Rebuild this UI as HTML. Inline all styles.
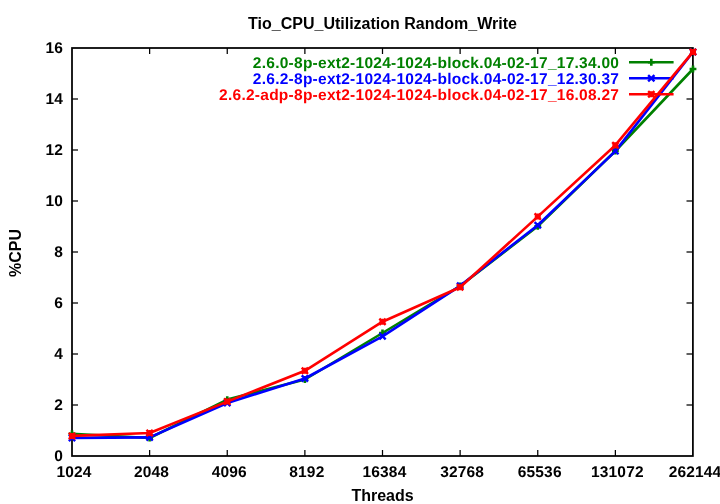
<!DOCTYPE html>
<html><head><meta charset="utf-8"><title>Tio_CPU_Utilization Random_Write</title>
<style>
html,body{margin:0;padding:0;background:#fff;}
body{width:720px;height:504px;overflow:hidden;}
svg{display:block;will-change:transform;}
text{font-family:"Liberation Sans",Arial,Helvetica,sans-serif;font-size:16px;font-weight:bold;fill:#000;}
.tk{text-rendering:geometricPrecision;font-size:15.5px;letter-spacing:0.15px;}

.lg{text-rendering:geometricPrecision;font-size:15.5px;letter-spacing:0.26px;}
</style></head><body>
<svg width="720" height="504" viewBox="0 0 720 504">
<rect x="0" y="0" width="720" height="504" fill="#fff"/>
<g stroke="#000" stroke-width="1.25" fill="none"><path d="M149.625 456V450"/><path d="M149.625 48V54"/><path d="M227.250 456V450"/><path d="M227.250 48V54"/><path d="M304.875 456V450"/><path d="M304.875 48V54"/><path d="M382.500 456V450"/><path d="M382.500 48V54"/><path d="M460.125 456V450"/><path d="M460.125 48V54"/><path d="M537.750 456V450"/><path d="M537.750 48V54"/><path d="M615.375 456V450"/><path d="M615.375 48V54"/><path d="M72 405H78"/><path d="M693 405H686.5"/><path d="M72 354H78"/><path d="M693 354H686.5"/><path d="M72 303H78"/><path d="M693 303H686.5"/><path d="M72 252H78"/><path d="M693 252H686.5"/><path d="M72 201H78"/><path d="M693 201H686.5"/><path d="M72 150H78"/><path d="M693 150H686.5"/><path d="M72 99H78"/><path d="M693 99H686.5"/></g>
<rect x="72" y="48" width="620.9" height="408" fill="none" stroke="#000" stroke-width="1.75"/>
<text class="tk" x="63" y="461" text-anchor="end">0</text>
<text class="tk" x="63" y="410" text-anchor="end">2</text>
<text class="tk" x="63" y="359" text-anchor="end">4</text>
<text class="tk" x="63" y="308" text-anchor="end">6</text>
<text class="tk" x="63" y="257" text-anchor="end">8</text>
<text class="tk" x="63" y="206" text-anchor="end">10</text>
<text class="tk" x="63" y="155" text-anchor="end">12</text>
<text class="tk" x="63" y="104" text-anchor="end">14</text>
<text class="tk" x="63" y="53" text-anchor="end">16</text>
<text class="tk" x="74.00" y="477" text-anchor="middle">1024</text>
<text class="tk" x="151.62" y="477" text-anchor="middle">2048</text>
<text class="tk" x="229.25" y="477" text-anchor="middle">4096</text>
<text class="tk" x="306.88" y="477" text-anchor="middle">8192</text>
<text class="tk" x="384.50" y="477" text-anchor="middle">16384</text>
<text class="tk" x="462.12" y="477" text-anchor="middle">32768</text>
<text class="tk" x="539.75" y="477" text-anchor="middle">65536</text>
<text class="tk" x="617.38" y="477" text-anchor="middle">131072</text>
<text class="tk" x="695.00" y="477" text-anchor="middle">262144</text>
<text x="382.5" y="500.5" text-anchor="middle">Threads</text>
<text transform="translate(21,253) rotate(-90)" text-anchor="middle">%CPU</text>
<text class="ti" x="382.5" y="28.7" text-anchor="middle">Tio_CPU_Utilization Random_Write</text>
<text class="lg" x="619.2" y="67.85" text-anchor="end" style="fill:#008000">2.6.0-8p-ext2-1024-1024-block.04-02-17_17.34.00</text>
<path d="M629 62.25H673.6" stroke="#008000" stroke-width="2.6" fill="none"/>
<path d="M647.90 62.25H654.70M651.30 58.85V65.65" stroke="#008000" stroke-width="2.6" fill="none"/>
<polyline points="72.00,433.70 149.62,438.00 227.25,399.60 304.88,379.50 382.50,333.00 460.12,286.00 537.75,226.30 615.38,151.00 693.00,69.00" stroke="#008000" stroke-width="2.6" fill="none" stroke-linejoin="round"/>
<path d="M68.60 433.70H75.40M72.00 430.30V437.10" stroke="#008000" stroke-width="2.6" fill="none"/>
<path d="M146.22 438.00H153.03M149.62 434.60V441.40" stroke="#008000" stroke-width="2.6" fill="none"/>
<path d="M223.85 399.60H230.65M227.25 396.20V403.00" stroke="#008000" stroke-width="2.6" fill="none"/>
<path d="M301.48 379.50H308.27M304.88 376.10V382.90" stroke="#008000" stroke-width="2.6" fill="none"/>
<path d="M379.10 333.00H385.90M382.50 329.60V336.40" stroke="#008000" stroke-width="2.6" fill="none"/>
<path d="M456.73 286.00H463.52M460.12 282.60V289.40" stroke="#008000" stroke-width="2.6" fill="none"/>
<path d="M534.35 226.30H541.15M537.75 222.90V229.70" stroke="#008000" stroke-width="2.6" fill="none"/>
<path d="M611.98 151.00H618.77M615.38 147.60V154.40" stroke="#008000" stroke-width="2.6" fill="none"/>
<path d="M689.60 69.00H696.40M693.00 65.60V72.40" stroke="#008000" stroke-width="2.6" fill="none"/>
<text class="lg" x="619.2" y="83.85" text-anchor="end" style="fill:#0000ff">2.6.2-8p-ext2-1024-1024-block.04-02-17_12.30.37</text>
<path d="M629 78.25H673.6" stroke="#0000ff" stroke-width="2.6" fill="none"/>
<path d="M648.15 75.10L654.45 81.40M648.15 81.40L654.45 75.10" stroke="#0000ff" stroke-width="2.4" fill="none"/>
<polyline points="72.00,437.90 149.62,437.40 227.25,403.00 304.88,378.50 382.50,336.30 460.12,285.80 537.75,225.20 615.38,151.10 693.00,52.00" stroke="#0000ff" stroke-width="2.6" fill="none" stroke-linejoin="round"/>
<path d="M68.85 434.75L75.15 441.05M68.85 441.05L75.15 434.75" stroke="#0000ff" stroke-width="2.4" fill="none"/>
<path d="M146.47 434.25L152.78 440.55M146.47 440.55L152.78 434.25" stroke="#0000ff" stroke-width="2.4" fill="none"/>
<path d="M224.10 399.85L230.40 406.15M224.10 406.15L230.40 399.85" stroke="#0000ff" stroke-width="2.4" fill="none"/>
<path d="M301.73 375.35L308.02 381.65M301.73 381.65L308.02 375.35" stroke="#0000ff" stroke-width="2.4" fill="none"/>
<path d="M379.35 333.15L385.65 339.45M379.35 339.45L385.65 333.15" stroke="#0000ff" stroke-width="2.4" fill="none"/>
<path d="M456.98 282.65L463.27 288.95M456.98 288.95L463.27 282.65" stroke="#0000ff" stroke-width="2.4" fill="none"/>
<path d="M534.60 222.05L540.90 228.35M534.60 228.35L540.90 222.05" stroke="#0000ff" stroke-width="2.4" fill="none"/>
<path d="M612.23 147.95L618.52 154.25M612.23 154.25L618.52 147.95" stroke="#0000ff" stroke-width="2.4" fill="none"/>
<path d="M689.85 48.85L696.15 55.15M689.85 55.15L696.15 48.85" stroke="#0000ff" stroke-width="2.4" fill="none"/>
<text class="lg" x="619.2" y="99.85" text-anchor="end" style="fill:#ff0000">2.6.2-adp-8p-ext2-1024-1024-block.04-02-17_16.08.27</text>
<path d="M629 94.25H673.6" stroke="#ff0000" stroke-width="2.6" fill="none"/>
<path d="M648.30 94.25H654.30M651.30 91.25V97.25" stroke="#ff0000" stroke-width="2.6" fill="none"/><path d="M648.15 91.10L654.45 97.40M648.15 97.40L654.45 91.10" stroke="#ff0000" stroke-width="2.4" fill="none"/>
<polyline points="72.00,435.90 149.62,433.00 227.25,401.60 304.88,370.80 382.50,321.70 460.12,287.30 537.75,216.60 615.38,145.20 693.00,51.90" stroke="#ff0000" stroke-width="2.6" fill="none" stroke-linejoin="round"/>
<path d="M69.00 435.90H75.00M72.00 432.90V438.90" stroke="#ff0000" stroke-width="2.6" fill="none"/><path d="M68.85 432.75L75.15 439.05M68.85 439.05L75.15 432.75" stroke="#ff0000" stroke-width="2.4" fill="none"/>
<path d="M146.62 433.00H152.62M149.62 430.00V436.00" stroke="#ff0000" stroke-width="2.6" fill="none"/><path d="M146.47 429.85L152.78 436.15M146.47 436.15L152.78 429.85" stroke="#ff0000" stroke-width="2.4" fill="none"/>
<path d="M224.25 401.60H230.25M227.25 398.60V404.60" stroke="#ff0000" stroke-width="2.6" fill="none"/><path d="M224.10 398.45L230.40 404.75M224.10 404.75L230.40 398.45" stroke="#ff0000" stroke-width="2.4" fill="none"/>
<path d="M301.88 370.80H307.88M304.88 367.80V373.80" stroke="#ff0000" stroke-width="2.6" fill="none"/><path d="M301.73 367.65L308.02 373.95M301.73 373.95L308.02 367.65" stroke="#ff0000" stroke-width="2.4" fill="none"/>
<path d="M379.50 321.70H385.50M382.50 318.70V324.70" stroke="#ff0000" stroke-width="2.6" fill="none"/><path d="M379.35 318.55L385.65 324.85M379.35 324.85L385.65 318.55" stroke="#ff0000" stroke-width="2.4" fill="none"/>
<path d="M457.12 287.30H463.12M460.12 284.30V290.30" stroke="#ff0000" stroke-width="2.6" fill="none"/><path d="M456.98 284.15L463.27 290.45M456.98 290.45L463.27 284.15" stroke="#ff0000" stroke-width="2.4" fill="none"/>
<path d="M534.75 216.60H540.75M537.75 213.60V219.60" stroke="#ff0000" stroke-width="2.6" fill="none"/><path d="M534.60 213.45L540.90 219.75M534.60 219.75L540.90 213.45" stroke="#ff0000" stroke-width="2.4" fill="none"/>
<path d="M612.38 145.20H618.38M615.38 142.20V148.20" stroke="#ff0000" stroke-width="2.6" fill="none"/><path d="M612.23 142.05L618.52 148.35M612.23 148.35L618.52 142.05" stroke="#ff0000" stroke-width="2.4" fill="none"/>
<path d="M690.00 51.90H696.00M693.00 48.90V54.90" stroke="#ff0000" stroke-width="2.6" fill="none"/><path d="M689.85 48.75L696.15 55.05M689.85 55.05L696.15 48.75" stroke="#ff0000" stroke-width="2.4" fill="none"/>
</svg></body></html>
